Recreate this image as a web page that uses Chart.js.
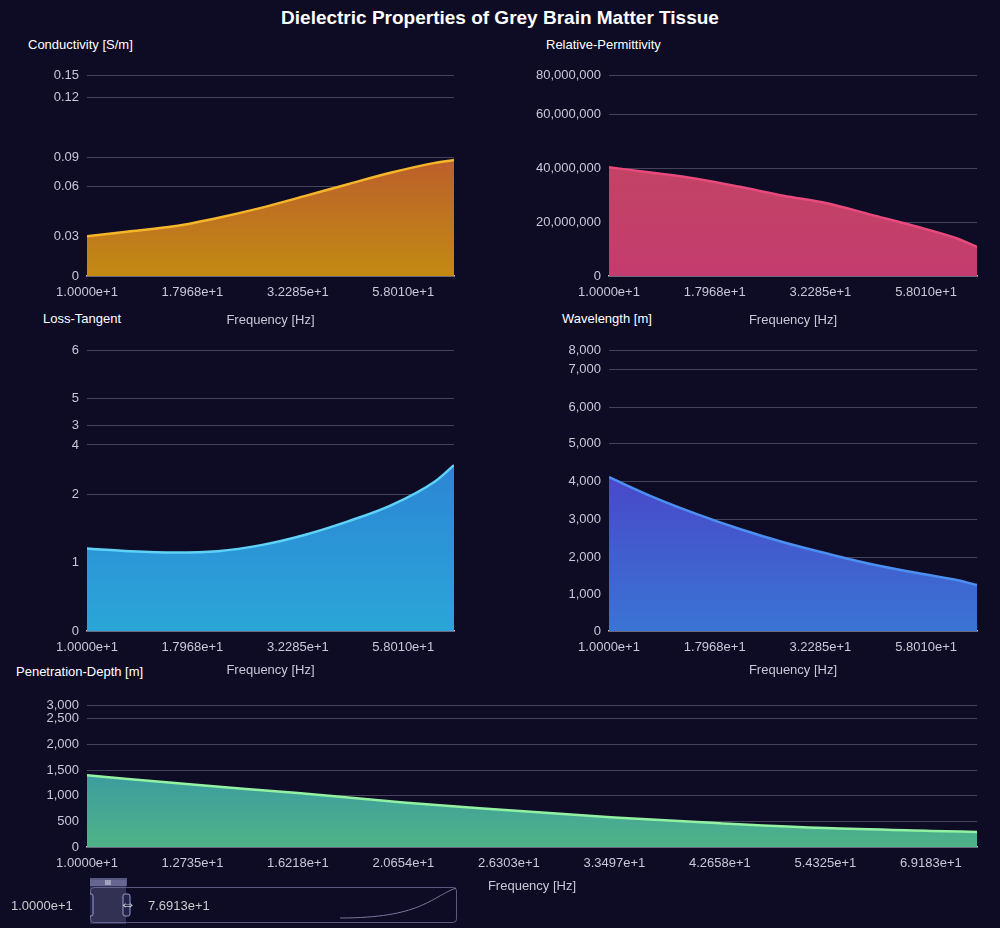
<!DOCTYPE html>
<html><head><meta charset="utf-8">
<script src="https://cdn.jsdelivr.net/npm/chart.js@4/dist/chart.umd.min.js"></script>
<style>
body{margin:0;background:#0e0b25;width:1000px;height:928px;overflow:hidden;font-family:"Liberation Sans",Arial,sans-serif;position:relative}
canvas{position:absolute}
.lbl{position:absolute;color:#fff;font-size:13px;white-space:nowrap}
#title{position:absolute;top:7px;left:0;width:1000px;text-align:center;color:#fff;font-weight:bold;font-size:19px}
</style></head><body>
<div id="title">Dielectric Properties of Grey Brain Matter Tissue</div>
<div class="lbl" style="left:28px;top:37px">Conductivity [S/m]</div>
<div class="lbl" style="left:546px;top:37px">Relative-Permittivity</div>
<div class="lbl" style="left:43px;top:311px">Loss-Tangent</div>
<div class="lbl" style="left:562px;top:311px">Wavelength [m]</div>
<div class="lbl" style="left:16px;top:664px">Penetration-Depth [m]</div>
<canvas id="c1"></canvas><canvas id="c2"></canvas><canvas id="c3"></canvas><canvas id="c4"></canvas><canvas id="c5"></canvas>
<!-- data zoom -->
<div style="position:absolute;left:90px;top:887px;width:365px;height:34px;border:1px solid #5a5a80;border-radius:4px"></div>
<svg style="position:absolute;left:90px;top:878px" width="370" height="50">
<path d="M250 40 C 330 40, 340 20, 366 10" stroke="#77779a" fill="none" stroke-width="1"/>
<rect x="0" y="2" width="36" height="44" fill="rgba(120,120,170,0.35)"/>
<rect x="0" y="0" width="37" height="8" fill="rgba(140,140,190,0.6)"/>
<text x="15" y="7" fill="#fff" font-size="7">III</text>
<rect x="-4" y="16" width="7" height="22" rx="2" fill="#24244a" stroke="#9a9ac8"/>
<rect x="33" y="16" width="7" height="22" rx="2" fill="#24244a" stroke="#9a9ac8"/>
</svg>
<div class="lbl" style="left:11px;top:898px;color:#ccc">1.0000e+1</div>
<div class="lbl" style="left:148px;top:898px;color:#ccc">7.6913e+1</div>
<div class="lbl" style="left:120px;top:895px;font-size:16px">⇔</div>
<script>
const freqs=[10,12.735,16.218,20.654,26.303,33.497,42.658,54.325,69.183,76.913];
const topTicks=[10,17.968,32.285,58.010];
const bottomTicks=[10,12.735,16.218,20.654,26.303,33.497,42.658,54.325,69.183];
const conductivity=[0.030,0.033,0.036,0.041,0.047,0.054,0.062,0.074,0.084,0.087];
const permittivity=[40.5e6,38.5e6,36.3e6,33.3e6,30.0e6,27.2e6,23.0e6,18.8e6,14.0e6,10.9e6];
const lossTangent=[1.20,1.16,1.14,1.16,1.25,1.40,1.60,1.84,2.26,2.59];
const wavelength=[4120,3600,3150,2750,2400,2100,1820,1590,1380,1250];
const penetration=[1400,1220,1055,870,720,575,465,370,315,295];
// axis tick values (as shown) and their relative positions on the axis
const condTicks=[0,0.03,0.06,0.09,0.12,0.15], condPos=[0,.198,.449,.594,.894,1];
const permTicks=[0,20e6,40e6,60e6,80e6], permPos=[0,.266,.536,.807,1];
const lossTicks=[0,1,2,3,4,5,6], lossLabels=["0","1","2","4","3","5","6"], lossPos=[0,.246,.488,.664,.734,.830,1];
const waveTicks=[0,1000,2000,3000,4000,5000,6000,7000,8000], wavePos=[0,.131,.263,.398,.533,.668,.799,.934,1];
const penTicks=[0,500,1000,1500,2000,2500,3000], penPos=[0,.181,.362,.544,.725,.913,1];

function mapv(v,t,p){for(let i=1;i<t.length;i++){if(v<=t[i])return p[i-1]+(v-t[i-1])/(t[i]-t[i-1])*(p[i]-p[i-1]);}return 1;}
const fmt=v=>v.toLocaleString('en-US');
function make(id,box,plot,vals,ticks,pos,labels,xt,cols){
  const c=document.getElementById(id);
  c.style.left=box[0]+'px';c.style.top=box[1]+'px';c.style.width=box[2]+'px';c.style.height=box[3]+'px';
  c.width=box[2];c.height=box[3];
  const data=freqs.map((f,i)=>({x:f,y:mapv(vals[i],ticks,pos)}));
  new Chart(c,{type:'line',data:{datasets:[{data,borderColor:cols[0],borderWidth:2.5,pointRadius:0,fill:'origin',cubicInterpolationMode:'monotone',
    backgroundColor:(ctx)=>{const a=ctx.chart.chartArea;if(!a)return cols[1];const g=ctx.chart.ctx.createLinearGradient(0,a.top,0,a.bottom);g.addColorStop(0,cols[1]);g.addColorStop(1,cols[2]);return g;}}]},
   options:{responsive:false,animation:false,devicePixelRatio:1,
    layout:{padding:{top:plot[1]-box[1],right:box[0]+box[2]-plot[2],left:0,bottom:0}},
    plugins:{legend:{display:false},tooltip:{enabled:false}},
    scales:{
     x:{type:'logarithmic',min:10,max:76.913,
       afterBuildTicks:s=>{s.ticks=xt.map(v=>({value:v}));},
       afterFit:s=>{s.height=box[1]+box[3]-plot[3];},
       ticks:{color:'#c8c8d8',font:{size:13,family:'Liberation Sans'},maxRotation:0,autoSkip:false,padding:4,callback:v=>Number(v).toExponential(4)},
       grid:{display:false,drawOnChartArea:false,drawTicks:true,tickLength:5,color:'#c8c8d8'},
       border:{color:'#c8c8d8',width:1.5},
       title:{display:true,text:'Frequency [Hz]',color:'#c8c8d8',font:{size:13,family:'Liberation Sans'},padding:{top:2}}},
     y:{min:0,max:1,
       afterBuildTicks:s=>{s.ticks=pos.map(v=>({value:v}));},
       afterFit:s=>{s.width=plot[0]-box[0];},
       ticks:{color:'#c8c8d8',font:{size:13,family:'Liberation Sans'},padding:8,autoSkip:false,callback:(v,i)=>labels?labels[i]:fmt(ticks[i])},
       grid:{color:(ctx)=>ctx.index===0?'rgba(0,0,0,0)':'rgba(200,200,220,0.3)',drawTicks:false,lineWidth:1},
       border:{display:false}}
    }}});
}
make('c1',[0,60,480,272],[87,69,454,276],conductivity,condTicks,condPos,null,topTicks,['#f6b62a','#b8403f','#c28a12']);
make('c2',[500,60,500,272],[609,69,977,276],permittivity,permTicks,permPos,null,topTicks,['#e94a7c','#c04a5e','#c43c6e']);
make('c3',[0,335,480,347],[87,342,454,631],lossTangent,lossTicks,lossPos,lossLabels,topTicks,['#5fd3f7','#2e6fd2','#2aa6d8']);
make('c4',[500,335,500,347],[609,342,977,631],wavelength,waveTicks,wavePos,null,topTicks,['#4b8ff2','#5524c0','#3a74d4']);
make('c5',[0,690,1000,208],[87,698,977,847],penetration,penTicks,penPos,null,bottomTicks,['#92f2a2','#2a86b4','#4fb388']);
</script></body></html>
